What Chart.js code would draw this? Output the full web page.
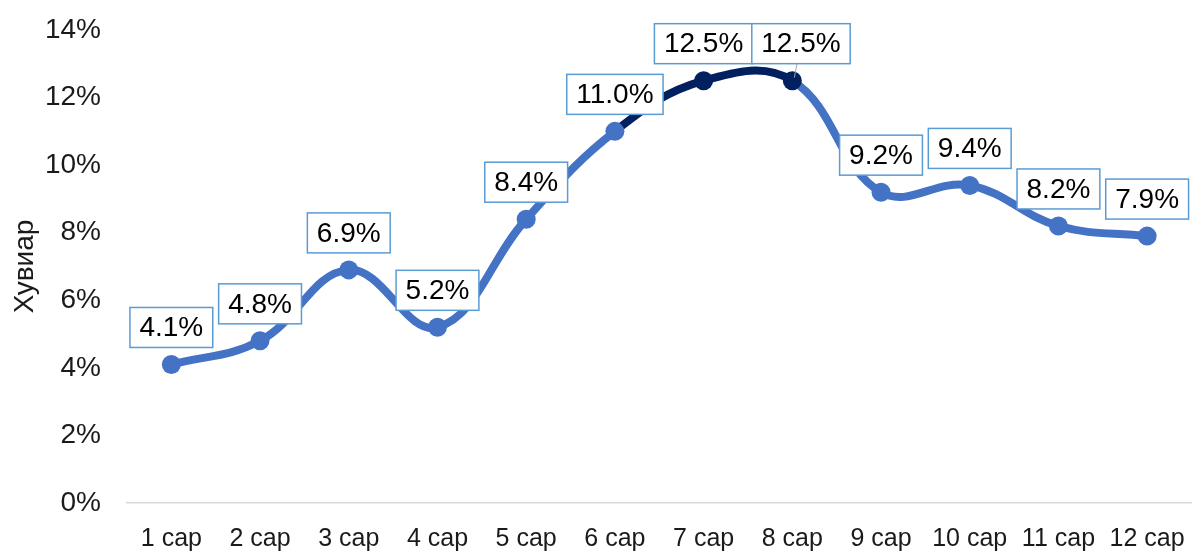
<!DOCTYPE html>
<html>
<head>
<meta charset="utf-8">
<script src="https://cdn.jsdelivr.net/npm/chart.js@4"></script>
<style>
  body { margin: 0; background: #fff; }
  #wrap { width: 1201px; height: 553px; }
</style>
</head>
<body>
<div id="wrap"><canvas id="rateChart" width="1201" height="553"></canvas></div>
<script>
// өгөгдөл
const months = ['1 сар', '2 сар', '3 сар', '4 сар', '5 сар', '6 сар', '7 сар', '8 сар', '9 сар', '10 сар', '11 сар', '12 сар'];
const rates = [4.1, 4.8, 6.9, 5.2, 8.4, 11.0, 12.5, 12.5, 9.2, 9.4, 8.2, 7.9];
const yTicks = [0, 2, 4, 6, 8, 10, 12, 14];
const axisTitle = 'Хувиар';

const BLUE = '#4472C4';
const NAVY = '#002060';
const FONT = "'Liberation Sans', Arial, sans-serif";

// 7, 8 сарын цэгүүд тод өнгөөр
function pointColor(ctx) {
    return (ctx.dataIndex === 6 || ctx.dataIndex === 7) ? NAVY : BLUE;
}

// утгын шошгыг хүрээтэй хайрцагт зурна
const boxLabels = {
    id: 'boxLabels',
    afterDatasetsDraw(chart) {
        const ctx = chart.ctx;
        const meta = chart.getDatasetMeta(0);
        ctx.save();
        ctx.font = '28px ' + FONT;
        ctx.textAlign = 'center';
        ctx.textBaseline = 'middle';
        let prevRight = -Infinity;
        let prevBottom = -Infinity;
        meta.data.forEach(function (pt, i) {
            const text = rates[i].toFixed(1) + '%';
            const w = ctx.measureText(text).width + 19;
            const h = 40;
            let left = pt.x - w / 2;
            const bottom = pt.y - 17;
            // ижил түвшинд давхцвал баруун тийш шилжүүлнэ
            let shifted = false;
            if (left < prevRight && Math.abs(bottom - prevBottom) < 10) {
                left = prevRight - 1;
                shifted = true;
            }
            const top = bottom - h;
            if (shifted) {
                ctx.strokeStyle = '#a6a6a6';
                ctx.lineWidth = 1;
                ctx.beginPath();
                ctx.moveTo(left + w / 2 - 4, bottom);
                ctx.lineTo(pt.x + 2, pt.y - 3);
                ctx.stroke();
            }
            ctx.fillStyle = '#ffffff';
            ctx.fillRect(left, top, w, h);
            ctx.strokeStyle = '#5B9BD5';
            ctx.lineWidth = 1.5;
            ctx.strokeRect(left, top, w, h);
            ctx.fillStyle = '#000000';
            ctx.fillText(text, left + w / 2, top + h / 2 + 1);
            prevRight = left + w;
            prevBottom = bottom;
        });
        ctx.restore();
    }
};

const canvas = document.getElementById('rateChart');
new Chart(canvas.getContext('2d'), {
    type: 'line',
    data: {
        labels: months,
        datasets: [{
            data: rates,
            borderColor: BLUE,
            borderWidth: 8,
            tension: 0.4,
            pointRadius: 9.5,
            pointHoverRadius: 9.5,
            pointBackgroundColor: pointColor,
            pointBorderColor: pointColor,
            pointBorderWidth: 0,
            segment: {
                borderColor: ctx => (ctx.p0DataIndex === 5 || ctx.p0DataIndex === 6) ? NAVY : BLUE
            }
        }]
    },
    options: {
        responsive: false,
        animation: false,
        devicePixelRatio: 1,
        layout: { padding: { top: 30, right: -5, left: 0, bottom: 0 } },
        plugins: {
            legend: { display: false },
            tooltip: { enabled: false }
        },
        scales: {
            x: {
                offset: true,
                grid: { display: false, drawTicks: false },
                border: { display: true, color: '#d9d9d9', width: 1.5 },
                ticks: {
                    color: '#1a1a1a',
                    font: { family: FONT, size: 25 },
                    padding: 21,
                    maxRotation: 0,
                    autoSkip: false
                },
                afterFit(scale) {
                    scale.height = 50;
                    scale.paddingLeft = 0;
                    scale.paddingRight = 0;
                }
            },
            y: {
                min: yTicks[0],
                max: yTicks[yTicks.length - 1],
                grid: { display: false, drawTicks: false },
                border: { display: false },
                afterBuildTicks(scale) {
                    scale.ticks = yTicks.map(v => ({ value: v }));
                },
                ticks: {
                    color: '#1a1a1a',
                    font: { family: FONT, size: 28 },
                    padding: 26,
                    callback: v => v + '%'
                },
                title: {
                    display: true,
                    text: axisTitle,
                    color: '#1a1a1a',
                    font: { family: FONT, size: 28 },
                    padding: { top: 8, bottom: 0 }
                },
                afterFit(scale) {
                    scale.width = 127;
                    scale.paddingTop = 0;
                    scale.paddingBottom = 0;
                }
            }
        }
    },
    plugins: [boxLabels]
});
</script>
</body>
</html>
